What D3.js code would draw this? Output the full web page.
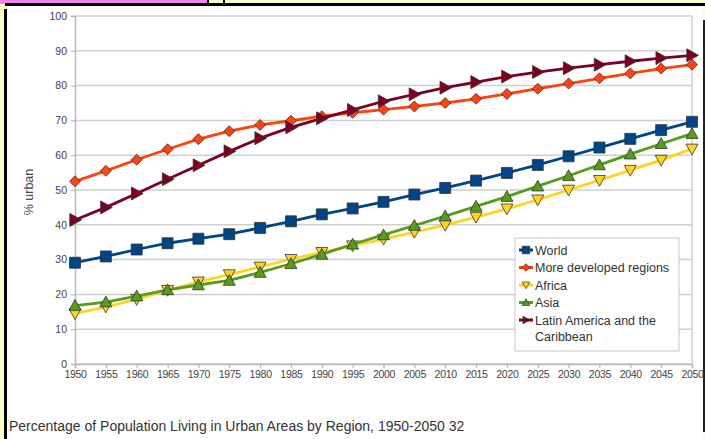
<!DOCTYPE html>
<html>
<head>
<meta charset="utf-8">
<script src="https://cdn.jsdelivr.net/npm/d3@7"></script>
<style>
  body { margin: 0; background: #fff; }
  svg { display: block; font-family: "Liberation Sans", Arial, sans-serif; }
</style>
</head>
<body>
<svg id="chart" width="705" height="439"></svg>
<script>
// data
const years = [1950,1955,1960,1965,1970,1975,1980,1985,1990,1995,2000,2005,2010,2015,2020,2025,2030,2035,2040,2045,2050];
const world = [29.1,30.9,32.9,34.7,36.0,37.3,39.1,41.0,43.0,44.7,46.6,48.7,50.6,52.7,54.9,57.2,59.7,62.2,64.7,67.2,69.6];
const moreDeveloped = [52.5,55.5,58.7,61.7,64.6,66.9,68.7,69.9,71.2,72.2,73.1,74.0,75.0,76.2,77.6,79.1,80.6,82.1,83.5,84.9,86.0];
const africa = [14.5,16.4,18.6,21.2,23.6,25.7,27.9,30.1,32.1,34.0,35.9,37.9,39.9,42.2,44.6,47.2,50.0,52.8,55.7,58.6,61.8];
const asia = [16.8,17.8,19.5,21.3,22.7,24.0,26.3,28.8,31.5,34.4,37.1,39.8,42.5,45.3,48.1,51.1,54.1,57.2,60.3,63.3,66.2];
const latinAmerica = [41.4,45.0,49.0,53.1,57.1,61.1,64.9,68.0,70.6,73.0,75.5,77.5,79.4,81.0,82.6,83.9,85.0,86.0,87.0,87.9,88.7];
const yTicks = [0,10,20,30,40,50,60,70,80,90,100];

const series = [
  {name: "World", values: world, color: "#004586", marker: "square"},
  {name: "More developed regions", values: moreDeveloped, color: "#ff420e", marker: "diamond"},
  {name: "Africa", values: africa, color: "#ffd320", marker: "down"},
  {name: "Asia", values: asia, color: "#579d1c", marker: "up"},
  {name: "Latin America and the Caribbean", values: latinAmerica, color: "#7e0021", marker: "right"}
];

const svg = d3.select("#chart");

// page frame around the screenshot
svg.append("rect").attr("x",0).attr("y",0).attr("width",705).attr("height",439).attr("fill","#ffffcc");
svg.append("rect").attr("x",7).attr("y",6).attr("width",696).attr("height",433).attr("fill","#fff");
svg.append("rect").attr("x",0).attr("y",0).attr("width",207).attr("height",4).attr("fill","#ee88ee");
svg.append("rect").attr("x",207).attr("y",0).attr("width",2).attr("height",4).attr("fill","#000");
svg.append("rect").attr("x",223).attr("y",0).attr("width",2).attr("height",4).attr("fill","#000");
svg.append("rect").attr("x",5).attr("y",3).attr("width",700).attr("height",3).attr("fill","#000");
svg.append("rect").attr("x",4).attr("y",9).attr("width",3).attr("height",430).attr("fill","#000");
svg.append("rect").attr("x",703).attr("y",20).attr("width",2).attr("height",412).attr("fill","#222");

const x = d3.scaleLinear().domain([1950,2050]).range([75,692]);
const y = d3.scaleLinear().domain([0,100]).range([364,16]);

// gridlines
svg.append("g").selectAll("line").data(yTicks).enter().append("line")
  .attr("x1",75).attr("x2",692)
  .attr("y1",d => y(d)).attr("y2",d => y(d))
  .attr("stroke","#cfcfcf").attr("stroke-width",1.5);
svg.append("line").attr("x1",692).attr("x2",692).attr("y1",y(100)).attr("y2",y(0))
  .attr("stroke","#cfcfcf").attr("stroke-width",1.5);

// axes
const yAxis = svg.append("g").attr("transform","translate(75,0)")
  .call(d3.axisLeft(y).tickValues(yTicks).tickSize(4).tickPadding(4));
const xAxis = svg.append("g").attr("transform","translate(0,364)")
  .call(d3.axisBottom(x).tickValues(years).tickFormat(d3.format("d")).tickSize(4).tickPadding(3));
[yAxis, xAxis].forEach(a => {
  a.select(".domain").attr("stroke","#b8b8b8").attr("stroke-width",1.5);
  a.selectAll(".tick line").attr("stroke","#b8b8b8").attr("stroke-width",1.2);
  a.selectAll("text").attr("fill","#444").attr("font-family","'Liberation Sans', Arial, sans-serif");
});
yAxis.selectAll("text").attr("font-size","10.5px");
xAxis.selectAll("text").attr("font-size","10.5px").attr("letter-spacing","-0.3px");

svg.append("text").attr("transform","translate(33,192) rotate(-90)")
  .attr("text-anchor","middle").attr("font-size","12.5px").attr("fill","#444")
  .text("% urban");

// marker shapes
function markerPath(type, s) {
  if (type === "square") return `M${-s},${-s}H${s}V${s}H${-s}Z`;
  if (type === "diamond") return `M0,${-s}L${s},0L0,${s}L${-s},0Z`;
  if (type === "up") return `M0,${-s}L${s},${s*0.8}L${-s},${s*0.8}Z`;
  if (type === "down") return `M0,${s}L${s},${-s*0.8}L${-s},${-s*0.8}Z`;
  if (type === "right") return `M${s},0L${-s*0.8},${-s}L${-s*0.8},${s}Z`;
}
const markerSize = {square: 5.5, diamond: 5.5, up: 6, down: 6, right: 6.5};

const line = d3.line().x((d,i) => x(years[i])).y(d => y(d));

// draw in order so Latin America ends on top
const drawOrder = [series[0], series[2], series[3], series[1], series[4]];
drawOrder.forEach(s => {
  const g = svg.append("g");
  g.append("path").datum(s.values).attr("d", line)
    .attr("fill","none").attr("stroke", s.color).attr("stroke-width", 2.8);
  g.selectAll("path.mk").data(s.values).enter().append("path")
    .attr("class","mk")
    .attr("transform",(d,i) => `translate(${x(years[i])},${y(d)})`)
    .attr("d", markerPath(s.marker, markerSize[s.marker]))
    .attr("fill", s.color).attr("stroke","#333").attr("stroke-width",0.8);
});

// legend
const legend = svg.append("g").attr("transform","translate(515,238)");
legend.append("rect").attr("width",164).attr("height",113)
  .attr("fill","#fff").attr("stroke","#c8c8c8").attr("stroke-width",1);
const legendY = [12, 29.5, 47, 64.5, 82];
series.forEach((s, i) => {
  const ly = legendY[i];
  legend.append("line").attr("x1",4).attr("x2",18).attr("y1",ly).attr("y2",ly)
    .attr("stroke", s.color).attr("stroke-width",3);
  legend.append("path").attr("transform",`translate(11,${ly})`)
    .attr("d", markerPath(s.marker, 3.8))
    .attr("fill", s.color).attr("stroke","#333").attr("stroke-width",0.7);
  const t = legend.append("text").attr("x",20).attr("y",ly + 4.5)
    .attr("font-size","12.5px").attr("fill","#333");
  if (i === 4) {
    t.text("Latin America and the");
    legend.append("text").attr("x",20).attr("y",ly + 20.5)
      .attr("font-size","12.5px").attr("fill","#333").text("Caribbean");
  } else {
    t.text(s.name);
  }
});

// caption
svg.append("text").attr("x",9).attr("y",431)
  .attr("font-size","14px").attr("fill","#333")
  .text("Percentage of Population Living in Urban Areas by Region, 1950-2050 32");
</script>
</body>
</html>
